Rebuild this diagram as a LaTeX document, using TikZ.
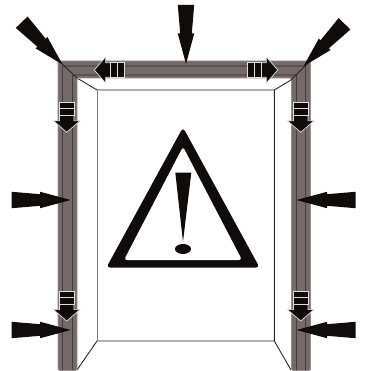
\documentclass[tikz,border=0pt]{standalone}
\usepackage{xcolor}
\usetikzlibrary{calc}
\definecolor{FrameGrey}{HTML}{756A6A}
\definecolor{FrameEdge}{HTML}{9A9090}
\definecolor{FrameLine}{HTML}{453C3C}
\definecolor{FrameBand}{HTML}{5C5252}
\definecolor{ArrowBlack}{HTML}{100C0C}
\tikzset{
  framebar/.style={fill=FrameGrey,draw=FrameEdge,line width=0.8pt,rounded corners=1.5pt},
  frameline/.style={draw=FrameLine,line width=0.8pt},
  frameband/.style={draw=FrameBand,line width=2.6pt},
  doorline/.style={draw=black!85,line width=0.9pt},
  blockpart/.style={fill=ArrowBlack,draw=black!12,line width=0.7pt},
  pics/pressarrow/.style={code={
    \fill[ArrowBlack] (0,-8.2) -- (28.5,-5.8) -- (28.5,-8.2) -- (59,0) -- (28.5,8.2) -- (28.5,5.8) -- (0,8.2) -- cycle;
  }},
  pics/slidearrow/.style={code={
    \draw[blockpart] (13,-7.3) -- (18.6,-7.3) -- (18.6,-13.2) -- (30,0) -- (18.6,13.2) -- (18.6,7.3) -- (13,7.3) -- cycle;
    \draw[blockpart] (0,-7.3) rectangle (6.5,7.3);
    \draw[blockpart] (6.5,-7.3) rectangle (13.5,7.3);
  }}
}
\begin{document}
\begin{tikzpicture}[x=1pt,y=-1pt]
\useasboundingbox (0,0) rectangle (364,371);
% door opening
\draw[doorline] (77,78) -- (97,90) -- (274.3,90) -- (291,80);
\draw[doorline] (77,370) -- (97,341) -- (274.3,341) -- (274.3,90);
\draw[doorline] (274.3,341) -- (291,370);
\draw[draw=black!50,line width=0.9pt] (97,90) -- (97,341);
% frame
\path[framebar] (58,370.5) -- (58,61) -- (310.5,61) -- (310.5,370.5) -- (291.5,370.5) -- (291.5,78) -- (77,78) -- (77,370.5) -- cycle;
\draw[frameline] (62.7,370) -- (62.7,66);
\draw[frameline] (305,370) -- (305,66);
\draw[frameline] (72.5,370) -- (72.5,75);
\draw[frameline] (296,370) -- (296,75);
\draw[frameband] (62.7,66) -- (305,66);
\draw[frameband,line width=1.6pt] (72.5,75) -- (296,75);
\draw[doorline] (60,62) -- (77,78);
\draw[doorline] (308,63) -- (291,80);
% warning sign
\fill[ArrowBlack,rounded corners=4pt] (183,127.3) -- (106.3,267.7) -- (259.7,267.7) -- cycle;
\fill[white,rounded corners=3pt] (183,146.7) -- (124,260) -- (242,260) -- cycle;
\fill[ArrowBlack] (175.3,172.7) -- (191.3,172.7) -- (183,241.7) -- cycle;
\fill[ArrowBlack] (183,249) ellipse [x radius=8,y radius=5];
% load arrows
\pic[rotate=-90] at (186,5) {pressarrow};
\pic[rotate=-46] at (21.7,22.2) {pressarrow};
\pic[rotate=-134] at (344.5,23.8) {pressarrow};
\pic at (11.7,200) {pressarrow};
\pic[rotate=180] at (355.5,200) {pressarrow};
\pic at (11.7,330) {pressarrow};
\pic[rotate=180] at (355.5,330) {pressarrow};
% sliding arrows
\pic[rotate=180] at (124.3,70) {slidearrow};
\pic at (247.7,70) {slidearrow};
\pic[rotate=-90] at (66.7,102.3) {slidearrow};
\pic[rotate=-90] at (300.7,102.3) {slidearrow};
\pic[rotate=-90] at (66.7,291) {slidearrow};
\pic[rotate=-90] at (300.7,291) {slidearrow};
\end{tikzpicture}
\end{document}
